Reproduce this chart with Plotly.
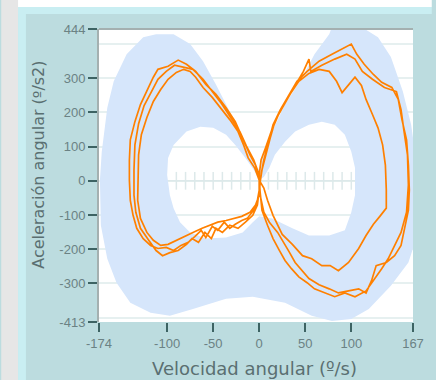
import plotly.graph_objects as go

# ---------------- data ----------------
x_tickvals = [-174, -100, -50, 0, 50, 100, 167]
x_ticktext = ["-174", "-100", "-50", "0", "50", "100", "167"]
y_tickvals = [-413, -300, -200, -100, 0, 100, 200, 300, 444]
y_ticktext = ["-413", "-300", "-200", "-100", "0", "100", "200", "300", "444"]

# target band (outer outline and inner hole)
band_outer_x = [-1, -10, -21, -32, -47, -61, -75, -93, -112, -126, -144, -158, -165, -171, -173, -172, -165, -155, -140, -118,
                -97, -72, -36, -7, 28, 57, 79, 100, 119, 143, 162, 170, 170, 165, 156, 143, 129, 111, 95, 79,
                76, 60, 47, 28, 14, 3]
band_outer_y = [32, 76, 144, 203, 282, 350, 400, 429, 429, 420, 370, 291, 214, 85, 2, -130, -228, -298, -357, -386,
                -395, -375, -345, -339, -357, -395, -410, -404, -375, -307, -239, -174, 67, 164, 261, 362, 420, 450, 462, 450,
                429, 370, 303, 223, 144, 67]
band_hole_x = [0, -6, -15, -26, -36, -50, -64, -79, -93, -99, -100, -97, -93, -86, -75, -58, -36, -18, -7, 0,
               14, 36, 54, 76, 93, 100, 104, 104, 104, 100, 93, 82, 68, 54, 39, 28, 17, 11, 5]
band_hole_y = [2, 32, 67, 105, 135, 155, 158, 144, 105, 67, 17, -42, -80, -121, -151, -169, -166, -151, -121, -104,
               -110, -139, -160, -160, -145, -92, -42, 17, 38, 85, 135, 164, 173, 164, 144, 114, 76, 38, 11]

# reference ticks along the zero line
zero_line_x = [-100, 105]
zero_tick_x = [-90, -80, -70, -60, -50, -40, -30, -20, -10, 0, 10, 20, 30, 40, 50, 60, 70, 80, 90, 100]
zero_tick_half = 26

# recorded trajectory: three cycles (velocity, acceleration)
vel_a = [0, -4, -10, -18, -26, -36, -47, -58, -69, -79, -88, -99, -110, -115, -122, -129, -135, -140, -141, -141,
         -140, -137, -133, -126, -118, -110, -101, -93, -85, -77, -70, -63, -58, -51, -45, -38, -32, -26, -19, -13,
         -6, -2, 0, 2, 5, 9, 15, 23, 33, 41, 52, 65, 79, 93, 100, 106, 114, 124, 133, 144,
         151, 155, 160, 162, 163, 162, 158, 154, 147, 138, 127, 122, 116, 108, 97, 86, 76, 65, 54, 47,
         39, 33, 26, 20, 11, 5, 1, 0]
acc_a = [8, 46, 76, 126, 173, 214, 253, 282, 320, 341, 353, 335, 326, 303, 261, 223, 173, 120, 61, 2,
         -57, -101, -139, -169, -189, -198, -195, -204, -189, -180, -163, -145, -166, -133, -145, -121, -139, -127, -116, -110,
         -86, -57, -27, 17, 61, 105, 164, 208, 253, 291, 320, 350, 370, 391, 400, 370, 341, 311, 288, 273,
         238, 179, 120, 46, -27, -86, -139, -189, -219, -239, -248, -292, -328, -316, -322, -328, -316, -304, -286, -263,
         -239, -210, -180, -151, -121, -92, -42, 2]
vel_b = [0, -6, -14, -21, -31, -41, -51, -61, -72, -83, -92, -101, -110, -117, -125, -131, -135, -136, -136, -134,
         -129, -120, -112, -105, -97, -88, -79, -73, -66, -59, -52, -47, -40, -32, -23, -15, -7, -2, 0, 0,
         2, 7, 13, 21, 30, 39, 48, 54, 56, 68, 82, 95, 104, 112, 123, 136, 149, 154, 157, 161,
         162, 160, 154, 147, 140, 133, 125, 116, 104, 93, 82, 71, 60, 52, 43, 35, 28, 22, 15, 9,
         3, 1, 0]
acc_b = [17, 61, 102, 144, 185, 226, 261, 297, 326, 332, 338, 320, 297, 261, 220, 167, 105, 32, -42, -92,
         -139, -174, -204, -219, -210, -204, -186, -169, -180, -151, -169, -139, -151, -130, -139, -121, -101, -71, -27, 17,
         61, 97, 144, 194, 238, 279, 320, 356, 320, 338, 356, 370, 356, 320, 297, 273, 261, 208, 150, 76,
         -12, -92, -151, -189, -228, -257, -286, -322, -339, -328, -339, -328, -316, -298, -281, -257, -233, -204, -169, -130,
         -86, -33, 8]
vel_c = [0, -5, -12, -17, -23, -32, -42, -51, -61, -69, -75, -82, -90, -99, -107, -115, -122, -128, -131, -132,
         -132, -129, -122, -115, -107, -99, -90, -82, -72, -62, -54, -45, -36, -28, -19, -10, -4, 0, 1, 3,
         7, 12, 17, 25, 34, 43, 54, 65, 76, 84, 90, 97, 104, 111, 116, 123, 129, 134, 137, 138,
         138, 131, 124, 116, 108, 97, 86, 77, 68, 57, 47, 36, 25, 15, 9, 5, 0]
acc_c = [2, 38, 67, 105, 144, 179, 214, 244, 273, 303, 320, 326, 317, 297, 267, 232, 185, 135, 76, 2,
         -57, -110, -151, -174, -189, -186, -174, -163, -151, -139, -130, -121, -116, -110, -104, -92, -71, -42, -4, 32,
         76, 126, 173, 214, 255, 291, 314, 326, 320, 291, 258, 282, 303, 279, 238, 194, 155, 105, 46, -27,
         -80, -104, -127, -160, -198, -239, -263, -248, -248, -228, -219, -186, -157, -101, -57, -21, 2]

# ---------------- styling ----------------
PANEL = "#bcdcdf"
CYAN = "#c9eef2"
GRAY = "#e6e6e6"
BAND = "#d6e6fb"
ORANGE = "#ff8000"
TICKC = "#3d6363"
LABELC = "#6b8284"
TITLEC = "#5a6f71"
GRID = "#e6f0f0"
FRAME = "#a4b0b0"

W, H = 436, 380
L, R, T, B = 99, 19, 29, 58
PW, PH = W - L - R, H - T - B


def px_x(p):
    return (p - L) / PW


def px_y(p):
    return (H - B - p) / PH


fig = go.Figure()

# zero line with small ticks (under the band)
zx, zy = list(zero_line_x), [0, 0]
for tx in zero_tick_x:
    zx += [None, tx, tx]
    zy += [None, -zero_tick_half, zero_tick_half]
fig.add_trace(go.Scatter(x=zx, y=zy, mode="lines", line=dict(color="#dde9ea", width=1.5),
                         hoverinfo="skip", showlegend=False))

# band with hole (hole traversed in the opposite direction)
bx = band_outer_x + [None] + band_hole_x[::-1]
by = band_outer_y + [None] + band_hole_y[::-1]
fig.add_trace(go.Scatter(x=bx, y=by, mode="lines", fill="toself", fillcolor=BAND,
                         line=dict(width=0, color=BAND), hoverinfo="skip", showlegend=False))

# trajectory
fig.add_trace(go.Scatter(x=vel_a + vel_b + vel_c, y=acc_a + acc_b + acc_c, mode="lines",
                         line=dict(color=ORANGE, width=1.7), showlegend=False))

shapes = [
    dict(type="rect", xref="paper", yref="paper", x0=px_x(0), x1=px_x(17), y0=px_y(H), y1=px_y(0),
         fillcolor=GRAY, line=dict(width=0), layer="below"),
    dict(type="rect", xref="paper", yref="paper", x0=px_x(17), x1=px_x(W), y0=px_y(7), y1=px_y(0),
         fillcolor="white", line=dict(width=0), layer="below"),
    dict(type="rect", xref="paper", yref="paper", x0=px_x(17), x1=px_x(25), y0=px_y(H), y1=px_y(7),
         fillcolor=CYAN, line=dict(width=0), layer="below"),
    dict(type="rect", xref="paper", yref="paper", x0=px_x(17), x1=px_x(W), y0=px_y(14), y1=px_y(7),
         fillcolor=CYAN, line=dict(width=0), layer="below"),
    dict(type="line", xref="paper", yref="paper", x0=0, x1=1, y0=1, y1=1,
         line=dict(color=FRAME, width=2)),
]

annotations = [
    dict(text="Velocidad angular (º/s)", xref="paper", yref="paper", x=px_x(256), y=px_y(368),
         xanchor="center", yanchor="middle", showarrow=False,
         font=dict(family="DejaVu Sans", size=18, color=TITLEC)),
    dict(text="Aceleración angular (º/s2)", xref="paper", yref="paper", x=px_x(37), y=px_y(165),
         xanchor="center", yanchor="middle", showarrow=False, textangle=-90,
         font=dict(family="DejaVu Sans", size=16, color=TITLEC)),
]

fig.update_layout(
    width=W, height=H, autosize=False,
    margin=dict(l=L, r=R, t=T, b=B, pad=0),
    paper_bgcolor=PANEL, plot_bgcolor="white",
    shapes=shapes, annotations=annotations,
    xaxis=dict(range=[-174, 167], tickmode="array", tickvals=x_tickvals, ticktext=x_ticktext,
               ticks="outside", ticklen=9, tickwidth=2, tickcolor=TICKC,
               showgrid=False, zeroline=False, showline=False, fixedrange=True,
               tickfont=dict(family="Liberation Sans", size=13, color=LABELC)),
    yaxis=dict(range=[-413, 444], tickmode="array", tickvals=y_tickvals, ticktext=y_ticktext,
               ticks="outside", ticklen=9, tickwidth=2, tickcolor=TICKC,
               showgrid=False, zeroline=False, showline=True, linecolor=FRAME, linewidth=2,
               minor=dict(tick0=0, dtick=100, showgrid=True, gridcolor=GRID, gridwidth=2, ticks=""),
               fixedrange=True,
               tickfont=dict(family="Liberation Sans", size=13, color=LABELC)),
)

fig.write_html("out.html", config={"displayModeBar": False},
               post_script="document.body.style.margin='0';document.body.style.padding='0';"
                           "document.documentElement.style.overflow='hidden';")
